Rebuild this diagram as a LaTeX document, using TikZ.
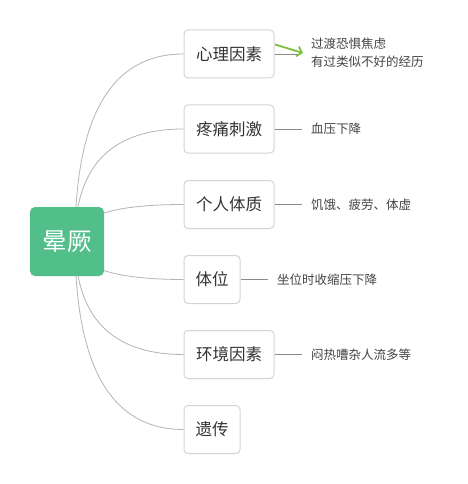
\documentclass[tikz,border=0pt]{standalone}
\usepackage{fontspec}
\newfontfamily\cjk{Noto Sans CJK SC}
\usetikzlibrary{calc,backgrounds,arrows.meta}
\definecolor{rootgreen}{HTML}{52BF8B}
\definecolor{arrowgreen}{HTML}{7BC144}
\definecolor{boxborder}{HTML}{D4D4D4}
\definecolor{curvegray}{HTML}{B4B4B4}
\definecolor{linegray}{HTML}{8A8A8A}
\definecolor{txtdark}{HTML}{333333}
\definecolor{txtside}{HTML}{444444}
\begin{document}
\begin{tikzpicture}[x=1pt,y=-1pt,
  rootbox/.style={fill=rootgreen,rounded corners=5pt,minimum width=74pt,minimum height=69pt,inner sep=0pt,text=white,font=\cjk\fontsize{24.5}{28}\selectfont},
  childbox/.style={draw=boxborder,line width=1pt,fill=white,rounded corners=4pt,minimum height=48pt,inner sep=0pt,text=txtdark,font=\cjk\fontsize{16.5}{20}\selectfont},
  wide/.style={minimum width=90pt},
  narrow/.style={minimum width=56pt},
  sidetext/.style={anchor=west,inner sep=0pt,text=txtside,align=left,font=\cjk\fontsize{12.5}{18}\selectfont},
  curve/.style={draw=curvegray,line width=0.8pt},
  sideline/.style={draw=linegray,line width=0.8pt},
  greenarrow/.style={draw=arrowgreen,line width=1.8pt,-{Straight Barb[length=4.5pt,width=10pt]}}
]
\useasboundingbox (0,0) rectangle (467,484);

\node[rootbox] (root) at (67,241.5) {晕厥};
\coordinate (rc) at (75,241);

\node[childbox,wide] (b1) at (229,54) {心理因素};
\node[childbox,wide] (b2) at (229,129) {疼痛刺激};
\node[childbox,wide] (b3) at (229,204.5) {个人体质};
\node[childbox,narrow] (b4) at (212,279.5) {体位};
\node[childbox,wide] (b5) at (229,354.5) {环境因素};
\node[childbox,narrow] (b6) at (212,429.5) {遗传};

\node[sidetext] (l1) at (311,52.5) {过渡恐惧焦虑\\有过类似不好的经历};
\node[sidetext] (l2) at (311,129) {血压下降};
\node[sidetext] (l3) at (311,204.5) {饥饿、疲劳、体虚};
\node[sidetext] (l4) at (277,279.5) {坐位时收缩压下降};
\node[sidetext] (l5) at (311,354.5) {闷热嘈杂人流多等};

\begin{scope}[on background layer]
\fill[white] (0,0) rectangle (467,484);
\foreach \b in {b1,b2,b3,b4,b5,b6}{
  \draw[curve] (rc) .. controls ($(rc)!0.667!(rc |- \b.west)$) and ($(\b.west)!0.667!(rc |- \b.west)$) .. (\b.west);
}
\end{scope}

\draw[sideline] (b1.east) -- ([xshift=-12pt]b1.east -| l1.west);
\draw[sideline] (b2.east) -- ([xshift=-9pt]b2.east -| l2.west);
\draw[sideline] (b3.east) -- ([xshift=-9pt]b3.east -| l3.west);
\draw[sideline] (b4.east) -- ([xshift=-9pt]b4.east -| l4.west);
\draw[sideline] (b5.east) -- ([xshift=-9pt]b5.east -| l5.west);

\coordinate (a1s) at (275,44.5);
\coordinate (a1e) at (303,53);
\draw[greenarrow] (a1s) -- (a1e);
\end{tikzpicture}
\end{document}
